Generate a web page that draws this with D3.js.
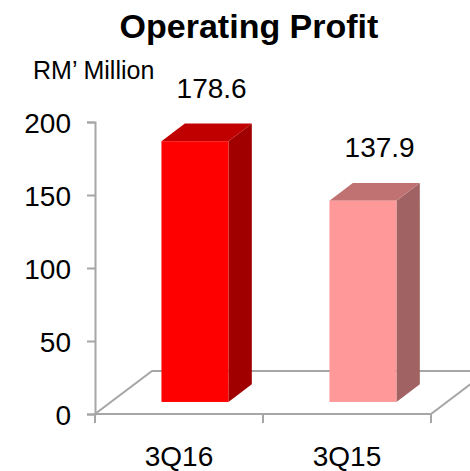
<!DOCTYPE html>
<html>
<head>
<meta charset="utf-8">
<script src="https://cdn.jsdelivr.net/npm/d3@7"></script>
<style>
  html, body { margin: 0; padding: 0; background: #fff; }
  svg { display: block; font-family: 'Liberation Sans', Arial, sans-serif; }
</style>
</head>
<body>
<svg id="chart"></svg>
<script>
const categories = ['3Q16', '3Q15']
const values = [178.6, 137.9]
const valueLabels = ['178.6', '137.9']
const yTicks = [0, 50, 100, 150, 200]
const frontColors = ['#FF0000', '#FF9999']
const topColors = ['#C00000', '#C07272']
const sideColors = ['#A00000', '#A06262']

const width = 470
const height = 471

const svg = d3.select('#chart')
  .attr('width', width)
  .attr('height', height)
  .attr('viewBox', `0 0 ${width} ${height}`)

const x = d3.scaleBand()
  .domain(categories)
  .range([95, 431])
  .paddingInner(0)
  .paddingOuter(0)

const y = d3.scaleLinear()
  .domain([0, 200])
  .range([414, 122])

// floor depth (whole floor) and bar depth slot
const depth = { dx: 57, dy: -43 }
const barFront = 0.28
const barBack = 0.69
const barWidth = 67

const gray = '#A6A6A6'

// title
svg.append('text')
  .attr('x', 249)
  .attr('y', 38)
  .attr('text-anchor', 'middle')
  .attr('font-size', '34px')
  .attr('font-weight', 'bold')
  .attr('fill', '#000')
  .text('Operating Profit')

svg.append('text')
  .attr('x', 33)
  .attr('y', 79)
  .attr('font-size', '25px')
  .attr('fill', '#000')
  .text('RM’ Million')

// floor
const x0 = x.range()[0]
const x1 = x.range()[1]
const yb = y(0)
const floor = [
  [x0, yb], [x1, yb],
  [x1 + depth.dx, yb + depth.dy], [x0 + depth.dx, yb + depth.dy]
]
svg.append('path')
  .attr('d', d3.line()(floor) + 'Z')
  .attr('fill', 'none')
  .attr('stroke', gray)
  .attr('stroke-width', 2)

// y axis
const yAxis = d3.axisLeft(y)
  .tickValues(yTicks)
  .tickSize(8)
  .tickPadding(16)

const yg = svg.append('g')
  .attr('transform', `translate(${x0},0)`)
  .call(yAxis)
yg.select('.domain').attr('stroke', gray).attr('stroke-width', 2)
yg.selectAll('.tick line').attr('stroke', gray).attr('stroke-width', 2)
yg.selectAll('.tick text')
  .attr('font-size', '28px')
  .attr('font-family', "'Liberation Sans', Arial, sans-serif")
  .attr('fill', '#000')
  .attr('dy', '0.36em')

// x axis
const xAxis = d3.axisBottom(x)
  .tickSize(0)
  .tickPadding(32)

const xg = svg.append('g')
  .attr('transform', `translate(0,${yb})`)
  .call(xAxis)
xg.select('.domain').remove()
xg.selectAll('.tick text')
  .attr('font-size', '28px')
  .attr('font-family', "'Liberation Sans', Arial, sans-serif")
  .attr('fill', '#000')

const xTickPos = [...categories.map(c => x(c)), x1]
svg.append('g')
  .selectAll('line')
  .data(xTickPos)
  .enter()
  .append('line')
  .attr('x1', d => d)
  .attr('x2', d => d)
  .attr('y1', yb)
  .attr('y2', yb + 9)
  .attr('stroke', gray)
  .attr('stroke-width', 2)

// bars
const bars = categories.map((c, i) => {
  const fx = x(c) + (x.bandwidth() - barWidth) / 2 + depth.dx * barFront
  const fy = yb + depth.dy * barFront
  const h = yb - y(values[i])
  const ddx = depth.dx * (barBack - barFront)
  const ddy = depth.dy * (barBack - barFront)
  return { c, i, fx, fy, h, ddx, ddy }
})

const barG = svg.append('g')
  .selectAll('g')
  .data(bars)
  .enter()
  .append('g')

barG.append('path')
  .attr('d', d => d3.line()([
    [d.fx + barWidth, d.fy], [d.fx + barWidth + d.ddx, d.fy + d.ddy],
    [d.fx + barWidth + d.ddx, d.fy + d.ddy - d.h], [d.fx + barWidth, d.fy - d.h]
  ]) + 'Z')
  .attr('fill', d => sideColors[d.i])

barG.append('path')
  .attr('d', d => d3.line()([
    [d.fx, d.fy - d.h], [d.fx + barWidth, d.fy - d.h],
    [d.fx + barWidth + d.ddx, d.fy + d.ddy - d.h], [d.fx + d.ddx, d.fy + d.ddy - d.h]
  ]) + 'Z')
  .attr('fill', d => topColors[d.i])

barG.append('rect')
  .attr('x', d => d.fx)
  .attr('y', d => d.fy - d.h)
  .attr('width', barWidth)
  .attr('height', d => d.h)
  .attr('fill', d => frontColors[d.i])

barG.append('text')
  .attr('x', d => d.fx + barWidth / 2 + d.ddx / 2 + 5)
  .attr('y', d => d.fy + d.ddy - d.h - 26)
  .attr('text-anchor', 'middle')
  .attr('font-size', '28px')
  .attr('fill', '#000')
  .text(d => valueLabels[d.i])
</script>
</body>
</html>
